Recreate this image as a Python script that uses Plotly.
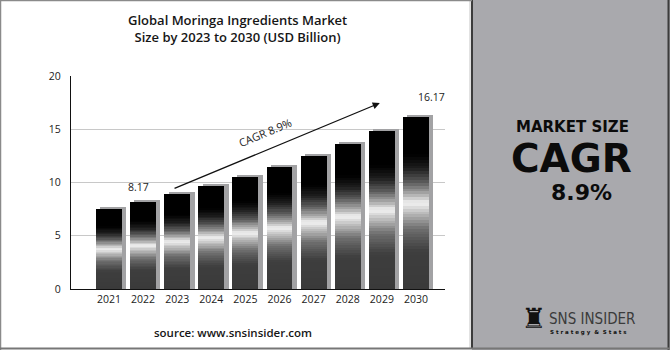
import plotly.graph_objects as go

# ---- data ----
years = ["2021", "2022", "2023", "2024", "2025", "2026", "2027", "2028", "2029", "2030"]
values = [7.50, 8.17, 8.90, 9.69, 10.55, 11.49, 12.51, 13.63, 14.84, 16.17]
y_ticks = [0, 5, 10, 15, 20]
cagr_label = "CAGR 8.9%"
first_label = "8.17"
last_label = "16.17"

# ---- layout geometry (pixels) ----
W, H = 670, 350
L, R, T, B = 71, 445, 76, 289


def px(x):
    return (x - L) / (R - L)


def py(y):
    return (B - y) / (B - T)


xs = list(range(len(years)))
bar_w = 0.76
bar_off = -bar_w / 2

# gradient profile: (fraction of bar height from bottom, gray level)
stops = [(0.0, 58), (0.22, 62), (0.35, 110), (0.45, 195), (0.50, 242),
         (0.55, 170), (0.62, 92), (0.70, 30), (0.78, 0), (1.0, 0)]


def gray_at(f):
    for (f0, g0), (f1, g1) in zip(stops[:-1], stops[1:]):
        if f0 <= f <= f1:
            t = (f - f0) / (f1 - f0) if f1 > f0 else 0
            g = round(g0 + (g1 - g0) * t)
            return f"rgb({g},{g},{g})"
    return "rgb(0,0,0)"


fig = go.Figure()

# shadow bars (offset to the right / slightly taller)
fig.add_trace(go.Bar(
    x=xs, y=[v + 0.2 for v in values], width=bar_w, offset=bar_off + 0.13,
    marker=dict(color="#a2a2a4", line=dict(width=0)), hoverinfo="skip",
    showlegend=False))

# gradient bars built from overlaid segments
N = 60
for i in range(N):
    f = i / N
    fig.add_trace(go.Bar(
        x=xs, y=[v * (1 - f) for v in values], base=[v * f for v in values],
        width=bar_w, offset=bar_off,
        marker=dict(color=gray_at(f + 0.5 / N), line=dict(width=0)),
        hoverinfo="skip", showlegend=False))

shapes = []
# right grey panel
shapes.append(dict(type="rect", xref="paper", yref="paper",
                   x0=px(472), x1=px(670), y0=py(0), y1=py(350),
                   fillcolor="#a9a9ad", line=dict(width=0), layer="below"))
shapes.append(dict(type="line", xref="paper", yref="paper",
                   x0=px(470), x1=px(470), y0=py(0), y1=py(349),
                   line=dict(color="#c4c4c4", width=1)))
shapes.append(dict(type="line", xref="paper", yref="paper",
                   x0=px(472), x1=px(472), y0=py(0), y1=py(349),
                   line=dict(color="#3c3c3c", width=2)))
shapes.append(dict(type="line", xref="paper", yref="paper",
                   x0=px(668.5), x1=px(668.5), y0=py(0), y1=py(350),
                   line=dict(color="#3c3c3c", width=2)))
# outer border (left, top, bottom)
shapes.append(dict(type="line", xref="paper", yref="paper",
                   x0=px(0.5), x1=px(0.5), y0=py(0), y1=py(350),
                   line=dict(color="#8a8a8a", width=1.5)))
shapes.append(dict(type="line", xref="paper", yref="paper",
                   x0=px(0), x1=px(472), y0=py(0.5), y1=py(0.5),
                   line=dict(color="#8a8a8a", width=1.5)))
shapes.append(dict(type="line", xref="paper", yref="paper",
                   x0=px(0), x1=px(670), y0=py(348.5), y1=py(348.5),
                   line=dict(color="#777777", width=2)))


def ptext(x, y, text, font, xanchor="center"):
    return dict(xref="paper", yref="paper", x=px(x), y=py(y), xanchor=xanchor,
                yanchor="middle", text=text, showarrow=False, font=font)


annotations = []
# title
title = ptext(237, 28, "Global Moringa Ingredients Market<br>Size by 2023 to 2030 (USD Billion)",
              dict(family="Open Sans", size=13, color="#161616", weight=600))
title["align"] = "center"
annotations.append(title)
# source
annotations.append(ptext(233, 332, "source: www.snsinsider.com",
                         dict(family="Open Sans", size=11.5, color="#161616", weight=600)))
# value labels
annotations.append(dict(x=1, y=values[1], xref="x", yref="y", text=first_label,
                        showarrow=False, xanchor="center", yanchor="bottom", xshift=-5, yshift=6,
                        font=dict(family="Open Sans", size=10.5, color="#222")))
annotations.append(dict(x=9, y=values[9], xref="x", yref="y", text=last_label,
                        showarrow=False, xanchor="center", yanchor="bottom", xshift=16, yshift=11,
                        font=dict(family="Open Sans", size=10.5, color="#222")))
# CAGR arrow
annotations.append(dict(x=7.94, y=17.46, ax=1.88, ay=9.39, xref="x", yref="y",
                        axref="x", ayref="y", text="", showarrow=True,
                        arrowhead=2, arrowsize=1.1, arrowwidth=1.3, arrowcolor="#111"))
annotations.append(dict(x=4.57, y=14.7, xref="x", yref="y", text=cagr_label,
                        showarrow=False, textangle=-22.6, xanchor="center", yanchor="middle",
                        font=dict(family="Open Sans", size=11, color="#222")))
# right panel texts
annotations.append(ptext(572, 127, "MARKET SIZE",
                         dict(family="DejaVu Sans", size=15, color="#0b0b0b", weight=800)))
annotations.append(ptext(571, 158, "CAGR",
                         dict(family="DejaVu Sans", size=39, color="#0b0b0b", weight=800)))
annotations.append(ptext(581, 192, "8.9%",
                         dict(family="DejaVu Sans", size=22, color="#0b0b0b", weight=800)))
# logo
annotations.append(ptext(533, 318, "♜", dict(family="DejaVu Sans", size=28, color="#111")))
annotations.append(ptext(547, 319, "SNS INSIDER",
                         dict(family="Liberation Sans Narrow, DejaVu Sans Condensed",
                              size=15, color="#3b3b3b"), xanchor="left"))
annotations.append(ptext(548, 332, "S t r a t e g y  &  S t a t s",
                         dict(family="DejaVu Sans", size=5.5, color="#111", weight=700),
                         xanchor="left"))

fig.update_layout(
    width=W, height=H,
    margin=dict(l=L, r=W - R, t=T, b=H - B, pad=0),
    paper_bgcolor="white", plot_bgcolor="white",
    barmode="overlay", bargap=0,
    showlegend=False,
    shapes=shapes, annotations=annotations,
    xaxis=dict(range=[-1.11, 9.85], tickmode="array", tickvals=xs, ticktext=years,
               showgrid=False, zeroline=False, showline=True, linecolor="#111",
               linewidth=1.3, ticks="", tickfont=dict(family="Open Sans", size=10.5, color="#222"),
               fixedrange=True),
    yaxis=dict(range=[0, 20], tickmode="array", tickvals=y_ticks,
               showgrid=True, gridcolor="#c8c8c8", gridwidth=1, zeroline=False,
               showline=True, linecolor="#111", linewidth=1.3, ticks="",
               ticklabelstandoff=7,
               tickfont=dict(family="Open Sans", size=10.5, color="#222"), fixedrange=True),
)

fig.write_html("out.html", config={"displayModeBar": False})
